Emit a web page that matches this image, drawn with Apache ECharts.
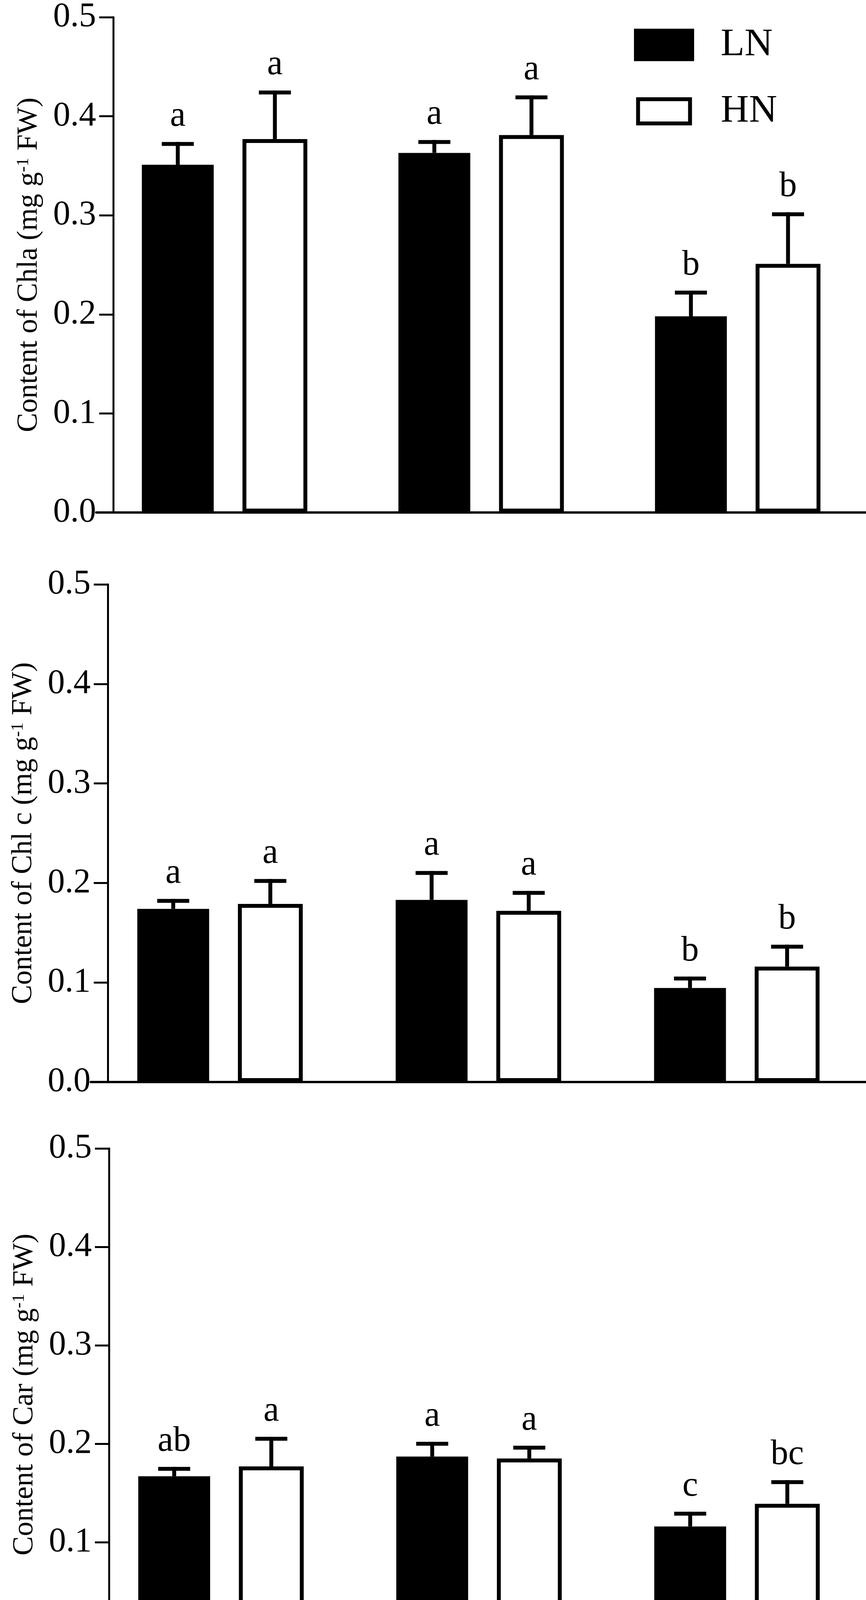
<!DOCTYPE html>
<html>
<head>
<meta charset="utf-8">
<script src="https://cdn.jsdelivr.net/npm/echarts@6/dist/echarts.min.js"></script>
<style>
html, body { margin: 0; padding: 0; background: #fff; }
#chart-container { width: 2217px; height: 4368px; }
</style>
</head>
<body>
<div id="chart-container"></div>
<script>
var categories = ['LL', 'ML', 'HL'];

// Chl a
var chlaLN = [0.351, 0.363, 0.198];
var chlaLNsd = [0.023, 0.013, 0.026];
var chlaHN = [0.377, 0.381, 0.251];
var chlaHNsd = [0.049, 0.040, 0.052];
var chlaLNletters = ['a', 'a', 'b'];
var chlaHNletters = ['a', 'a', 'b'];

// Chl c
var chlcLN = [0.174, 0.183, 0.0945];
var chlcLNsd = [0.010, 0.029, 0.0115];
var chlcHN = [0.179, 0.172, 0.116];
var chlcHNsd = [0.025, 0.020, 0.022];
var chlcLNletters = ['a', 'a', 'b'];
var chlcHNletters = ['a', 'a', 'b'];

// Car
var carLN = [0.167, 0.187, 0.116];
var carLNsd = [0.0095, 0.015, 0.015];
var carHN = [0.177, 0.185, 0.139];
var carHNsd = [0.030, 0.013, 0.024];
var carLNletters = ['ab', 'a', 'c'];
var carHNletters = ['a', 'a', 'bc'];

var yTitles = [
  'Content of Chla (mg g{sup|-1} FW)',
  'Content of Chl c (mg g{sup|-1} FW)',
  'Content of Car (mg g{sup|-1} FW)'
];

var panels = [
  { ln: chlaLN, lnSd: chlaLNsd, hn: chlaHN, hnSd: chlaHNsd, lnL: chlaLNletters, hnL: chlaHNletters },
  { ln: chlcLN, lnSd: chlcLNsd, hn: chlcHN, hnSd: chlcHNsd, lnL: chlcLNletters, hnL: chlcHNletters },
  { ln: carLN, lnSd: carLNsd, hn: carHN, hnSd: carHNsd, lnL: carLNletters, hnL: carHNletters }
];

var FONT = '"Liberation Serif", "Times New Roman", serif';
var gridBoxes = [
  { left: 246.5, top: 37, height: 1275 },
  { left: 232.5, top: 1496, height: 1274 },
  { left: 235.5, top: 2940, height: 1274 }
];

var lnWidth = 184, hnWidth = 166, gapRatio = 0.40;
var widthSum = lnWidth * (1 + gapRatio) + hnWidth;
var lnOff = -widthSum / 2 + lnWidth / 2;
var hnOff = lnOff + lnWidth / 2 + lnWidth * gapRatio + hnWidth / 2;

// upward error bar with cap, plus the significance letter above it
function errorRender(offset, letters) {
  return function (params, api) {
    var base = api.coord([api.value(0), api.value(1)]);
    var top = api.coord([api.value(0), api.value(2)]);
    var x = base[0] + offset;
    return {
      type: 'group',
      children: [
        { type: 'rect', shape: { x: x - 5, y: top[1], width: 10, height: base[1] - top[1] }, style: { fill: '#000' } },
        { type: 'rect', shape: { x: x - 41, y: top[1], width: 82, height: 10 }, style: { fill: '#000' } },
        {
          type: 'text', x: x, y: top[1] - 20,
          style: { text: letters[params.dataIndex], fill: '#000', fontSize: 90, fontFamily: FONT, align: 'center', verticalAlign: 'bottom' }
        }
      ]
    };
  };
}

function errData(mean, sd) {
  return mean.map(function (m, i) { return [i, m, m + sd[i]]; });
}

var grids = [], xAxes = [], yAxes = [], series = [];
panels.forEach(function (p, i) {
  grids.push({ left: gridBoxes[i].left, top: gridBoxes[i].top, width: 1995, height: gridBoxes[i].height });
  xAxes.push({
    type: 'category', gridIndex: i, data: categories,
    axisLine: { lineStyle: { color: '#000', width: 6 } },
    axisTick: { alignWithLabel: true, length: 35, lineStyle: { color: '#000', width: 4 } },
    axisLabel: { show: i === 2, color: '#000', fontSize: 110, fontFamily: FONT, margin: 58 }
  });
  yAxes.push({
    type: 'value', gridIndex: i, min: 0, max: 0.5, interval: 0.1, offset: -43.5,
    axisLine: { show: true, lineStyle: { color: '#000', width: 5 } },
    axisTick: { show: true, length: 36, lineStyle: { color: '#000', width: 5 } },
    splitLine: { show: false },
    axisLabel: { color: '#000', fontSize: 88, fontFamily: FONT, margin: 44, formatter: function (v) { return v.toFixed(1); } },
    name: yTitles[i], nameLocation: 'middle', nameGap: 178,
    nameTextStyle: {
      color: '#000', fontSize: 74, fontFamily: FONT,
      rich: { sup: { fontSize: 44, fontFamily: FONT, color: '#000', verticalAlign: 'top' } }
    }
  });
  series.push({
    type: 'bar', name: 'LN', xAxisIndex: i, yAxisIndex: i, data: p.ln,
    barWidth: lnWidth, barGap: (gapRatio * 100) + '%', itemStyle: { color: '#000' }
  });
  series.push({
    type: 'bar', name: 'HN', xAxisIndex: i, yAxisIndex: i, data: p.hn,
    barWidth: hnWidth, barGap: (gapRatio * 100) + '%',
    itemStyle: { color: '#fff', borderColor: '#000', borderWidth: 10 }
  });
  series.push({
    type: 'custom', xAxisIndex: i, yAxisIndex: i, data: errData(p.ln, p.lnSd),
    encode: { x: 0, y: [1, 2] }, renderItem: errorRender(lnOff, p.lnL), z: 3
  });
  series.push({
    type: 'custom', xAxisIndex: i, yAxisIndex: i, data: errData(p.hn, p.hnSd),
    encode: { x: 0, y: [1, 2] }, renderItem: errorRender(hnOff, p.hnL), z: 3
  });
});

var dom = document.getElementById('chart-container');
var myChart = echarts.init(dom, null, { renderer: 'canvas' });

var option = {
  animation: false,
  backgroundColor: '#fff',
  legend: {
    orient: 'vertical', left: 1613, top: 60,
    itemWidth: 154, itemHeight: 83, itemGap: 70,
    textStyle: { color: '#000', fontSize: 100, fontFamily: FONT, padding: [0, 0, 0, 63] },
    data: [
      { name: 'LN', icon: 'rect', itemStyle: { color: '#000', borderWidth: 0 } },
      {
        name: 'HN', icon: 'path://M0,0M154,83M10.5,10.5h133v62h-133z',
        itemStyle: { color: '#fff', borderColor: '#000', borderWidth: 10 }
      }
    ]
  },
  grid: grids,
  xAxis: xAxes,
  yAxis: yAxes,
  series: series
};

myChart.setOption(option);
window.addEventListener('resize', myChart.resize);
</script>
</body>
</html>
